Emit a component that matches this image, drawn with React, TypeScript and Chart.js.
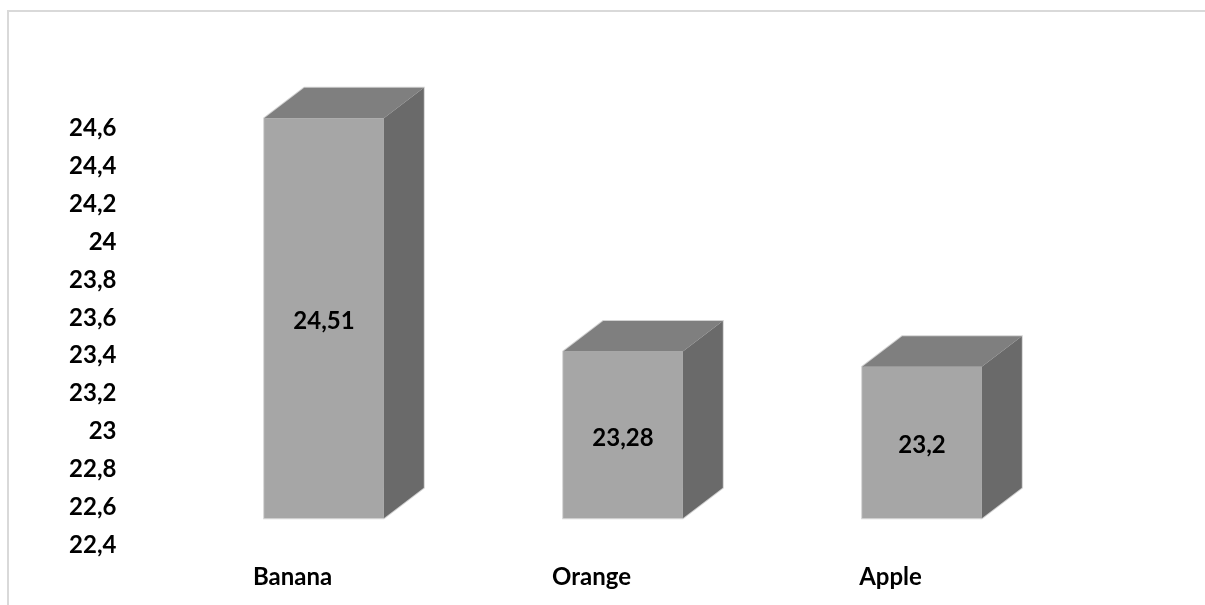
import React, { useEffect, useRef } from "react";
import { Chart, registerables } from "chart.js";

Chart.register(...registerables);

const categories = ["Banana", "Orange", "Apple"];
const values = [24.51, 23.28, 23.2];
const yMin = 22.4;
const yMax = 24.6;
const yStep = 0.2;

const FRONT = "#a6a6a6";
const TOP = "#7f7f7f";
const SIDE = "#6a6a6a";
const EDGE = "#d2d2d2";
const DX = 40;
const DY = 30.5;
const FONT = "Lato";

const fmt = (v: number) => String(Number(v.toFixed(2))).replace(".", ",");

const frame3d = {
  id: "frame3d",
  beforeDraw(chart: any) {
    const ctx = chart.ctx;
    ctx.save();
    ctx.strokeStyle = "#d9d9d9";
    ctx.lineWidth = 2;
    ctx.beginPath();
    ctx.moveTo(8, chart.height + 5);
    ctx.lineTo(8, 11);
    ctx.lineTo(chart.width + 5, 11);
    ctx.stroke();
    ctx.restore();
  },
  beforeDatasetsDraw(chart: any) {
    const ctx = chart.ctx;
    const meta = chart.getDatasetMeta(0);
    ctx.save();
    ctx.strokeStyle = EDGE;
    ctx.lineWidth = 2;
    meta.data.forEach((bar: any) => {
      const { x, y, base, width } = bar.getProps(["x", "y", "base", "width"], true);
      const x0 = x - width / 2;
      const x1 = x + width / 2;
      ctx.beginPath();
      ctx.moveTo(x0, base);
      ctx.lineTo(x0, y);
      ctx.lineTo(x0 + DX, y - DY);
      ctx.lineTo(x1 + DX, y - DY);
      ctx.lineTo(x1 + DX, base - DY);
      ctx.lineTo(x1, base);
      ctx.closePath();
      ctx.stroke();
    });
    ctx.restore();
  },
  afterDatasetsDraw(chart: any) {
    const ctx = chart.ctx;
    const meta = chart.getDatasetMeta(0);
    ctx.save();
    meta.data.forEach((bar: any, i: number) => {
      const { x, y, base, width } = bar.getProps(["x", "y", "base", "width"], true);
      const x0 = x - width / 2;
      const x1 = x + width / 2;
      // top face
      ctx.fillStyle = TOP;
      ctx.beginPath();
      ctx.moveTo(x0, y);
      ctx.lineTo(x0 + DX, y - DY);
      ctx.lineTo(x1 + DX, y - DY);
      ctx.lineTo(x1, y);
      ctx.closePath();
      ctx.fill();
      // side face
      ctx.fillStyle = SIDE;
      ctx.beginPath();
      ctx.moveTo(x1, y);
      ctx.lineTo(x1 + DX, y - DY);
      ctx.lineTo(x1 + DX, base - DY);
      ctx.lineTo(x1, base);
      ctx.closePath();
      ctx.fill();
      // value label
      ctx.fillStyle = "#000";
      ctx.font = `bold 24px ${FONT}`;
      ctx.textAlign = "center";
      ctx.textBaseline = "middle";
      ctx.fillText(fmt(values[i]), x, (y + base) / 2 + 3);
    });
    ctx.restore();
  },
};

export default function App() {
  const ref = useRef<HTMLCanvasElement | null>(null);

  useEffect(() => {
    if (!ref.current) return;
    const chart = new Chart(ref.current, {
      type: "bar",
      data: {
        labels: categories,
        datasets: [
          {
            data: values,
            base: yMin,
            backgroundColor: FRONT,
            borderWidth: 0,
            barPercentage: 0.4,
            categoryPercentage: 1,
          } as any,
        ],
      },
      options: {
        animation: false,
        responsive: false,
        events: [],
        layout: { padding: { left: 0, right: 133.5, top: 101.2, bottom: 0 } },
        plugins: {
          legend: { display: false },
          tooltip: { enabled: false },
          title: { display: false },
        },
        scales: {
          x: {
            offset: true,
            grid: { display: false, drawTicks: false },
            border: { display: false },
            ticks: {
              color: "#000",
              font: { family: FONT, weight: "bold", size: 24, lineHeight: 1.2 },
              padding: 45,
              labelOffset: -31.5,
              maxRotation: 0,
              minRotation: 0,
              autoSkip: false,
            },
            afterFit: (scale: any) => {
              scale.height = 86.7;
            },
          },
          y: {
            min: yMin,
            max: yMax,
            grid: { display: false, drawTicks: false },
            border: { display: false },
            ticks: {
              stepSize: yStep,
              color: "#000",
              font: { family: FONT, weight: "bold", size: 24, lineHeight: 1.2 },
              padding: 58,
              labelOffset: 27,
              autoSkip: false,
              callback: (v: any) => fmt(Number(v)),
            },
            afterFit: (scale: any) => {
              scale.width = 174.5;
            },
          },
        },
      },
      plugins: [frame3d],
    });
    return () => chart.destroy();
  }, []);

  return (
    <div style={{ position: "fixed", left: 0, top: 0, width: 1205, height: 605, background: "#fff", overflow: "hidden" }}>
      <canvas ref={ref} width={1205} height={605} style={{ width: 1205, height: 605, display: "block" }} />
    </div>
  );
}
